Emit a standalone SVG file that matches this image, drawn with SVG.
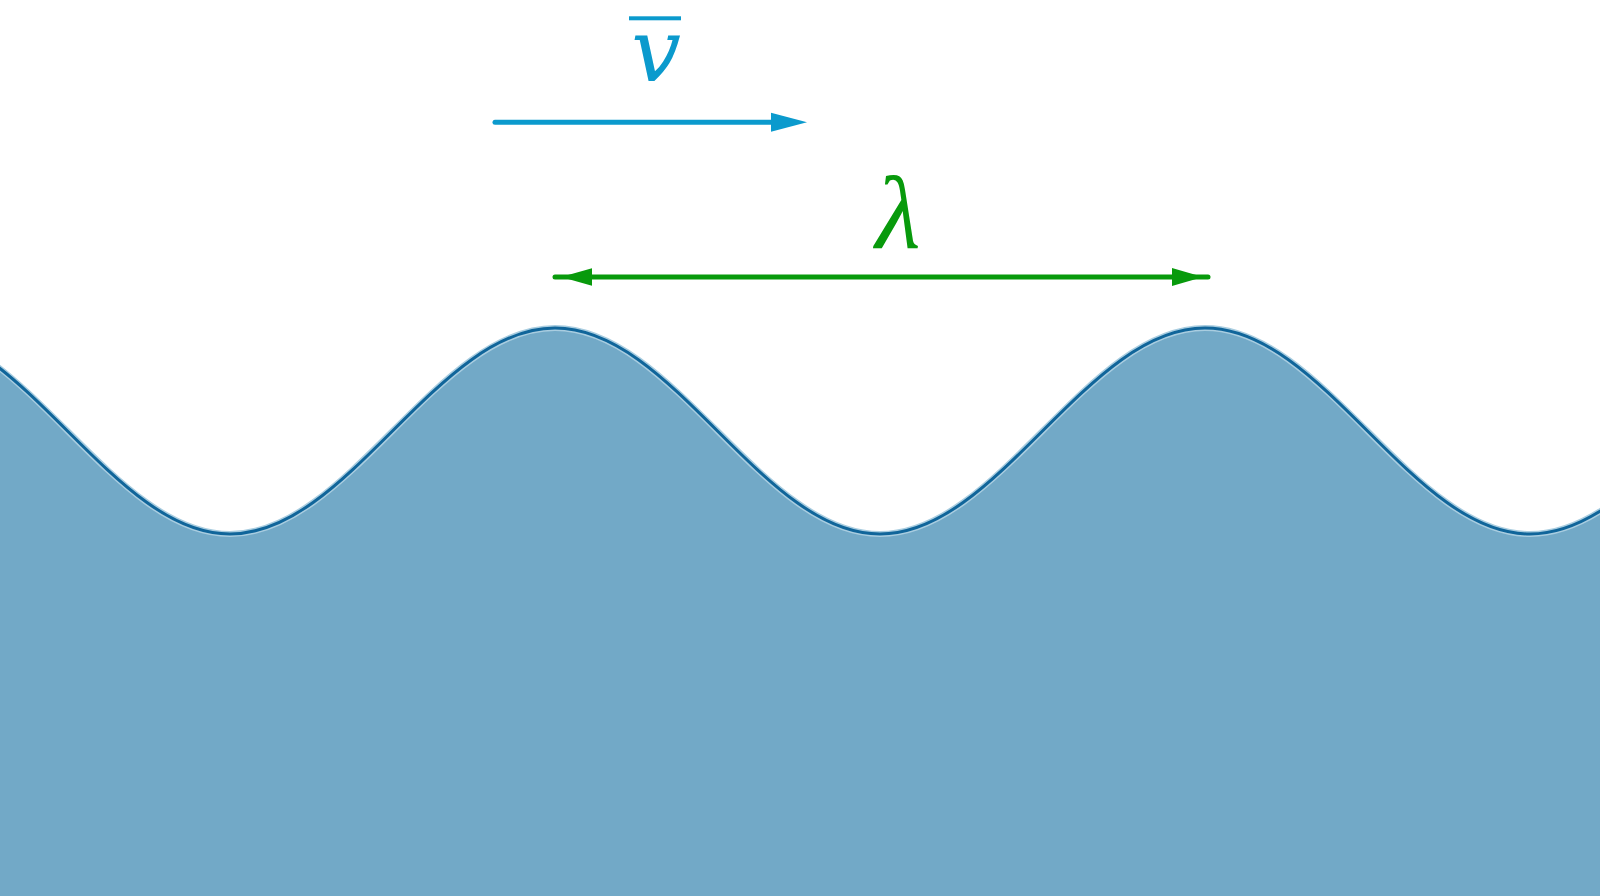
<svg xmlns="http://www.w3.org/2000/svg" width="1600" height="896" viewBox="0 0 1600 896">
<style>
.lbl{font-style:italic;text-anchor:middle}
.blue{fill:#0b9acd}
.green{fill:#089a0c}
</style>
<rect width="1600" height="896" fill="#ffffff"/>
<g id="wave">
<path d="M -95,328 C -36.2,328 14.5,378.2 67.5,431 C 120.5,483.8 171.2,534 230,534 C 288.8,534 339.5,483.8 392.5,431 C 445.5,378.2 496.2,328 555,328 C 613.8,328 664.5,378.2 717.5,431 C 770.5,483.8 821.2,534 880,534 C 938.8,534 989.5,483.8 1042.5,431 C 1095.5,378.2 1146.2,328 1205,328 C 1263.8,328 1314.5,378.2 1367.5,431 C 1420.5,483.8 1471.2,534 1530,534 C 1588.8,534 1639.5,483.8 1692.5,431 L 1692.5,900 L -95,900 Z" fill="#72a9c7" stroke="#a9cde0" stroke-width="6"/>
<path d="M -95,328 C -36.2,328 14.5,378.2 67.5,431 C 120.5,483.8 171.2,534 230,534 C 288.8,534 339.5,483.8 392.5,431 C 445.5,378.2 496.2,328 555,328 C 613.8,328 664.5,378.2 717.5,431 C 770.5,483.8 821.2,534 880,534 C 938.8,534 989.5,483.8 1042.5,431 C 1095.5,378.2 1146.2,328 1205,328 C 1263.8,328 1314.5,378.2 1367.5,431 C 1420.5,483.8 1471.2,534 1530,534 C 1588.8,534 1639.5,483.8 1692.5,431" fill="none" stroke="#10659a" stroke-width="3"/>
</g>
<g id="connectors">
<g id="velocity-arrow">
<line x1="495" y1="122.3" x2="775" y2="122.3" stroke="#0b9acd" stroke-width="5" stroke-linecap="round"/>
<polygon class="blue" points="771,112.8 807,122.3 771,131.8"/>
</g>
<g id="wavelength-arrow">
<line x1="555" y1="277" x2="1208" y2="277" stroke="#089a0c" stroke-width="5" stroke-linecap="round"/>
<polygon class="green" points="592,268.3 561,277 592,285.7"/>
<polygon class="green" points="1172,268 1203,277 1172,286"/>
</g>
</g>
<g id="label-v">
<rect x="629" y="16.3" width="52" height="4" class="blue"/>
<text x="656" y="81" class="lbl blue" font-size="88" font-family="'DejaVu Serif','Liberation Serif',serif">v</text>
</g>
<g id="label-lambda">
<text x="898" y="248" class="lbl green" font-size="104" font-family="'Liberation Serif','DejaVu Serif',serif">λ</text>
</g>
</svg>
